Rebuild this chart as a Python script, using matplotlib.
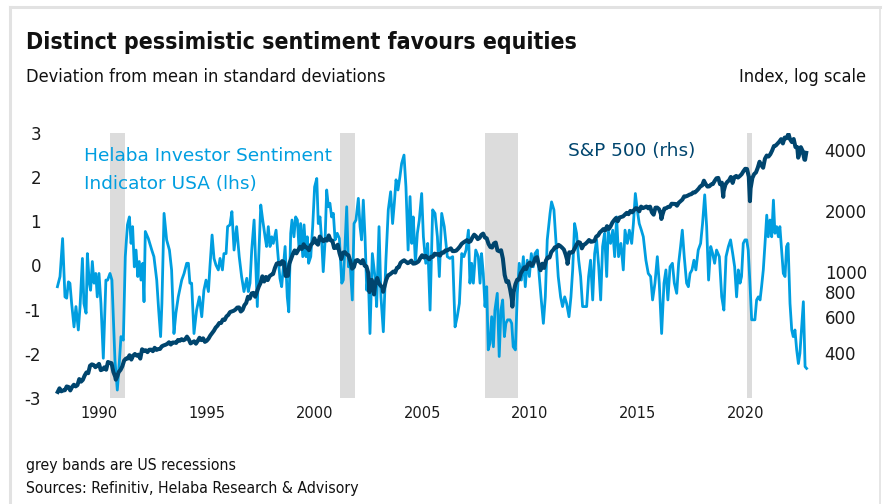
import matplotlib
matplotlib.use("Agg")
import matplotlib.pyplot as plt
import numpy as np
from matplotlib.font_manager import FontProperties
from matplotlib.ticker import FixedLocator, NullLocator, FixedFormatter
from matplotlib.lines import Line2D

# ---------------- data ----------------
# Helaba Investor Sentiment Indicator USA (deviation from mean, std devs)
sent_years = [
    1988.07, 1988.19, 1988.31, 1988.42, 1988.50, 1988.58, 1988.65, 1988.73, 1988.84, 1988.93,
    1989.04, 1989.12, 1989.23, 1989.30, 1989.40, 1989.46, 1989.55, 1989.61, 1989.69, 1989.77,
    1989.85, 1989.92, 1990.00, 1990.09, 1990.20, 1990.32, 1990.40, 1990.51, 1990.60, 1990.74,
    1990.85, 1990.94, 1991.02, 1991.13, 1991.22, 1991.32, 1991.41, 1991.49, 1991.56, 1991.64,
    1991.72, 1991.80, 1991.87, 1991.95, 1992.03, 1992.09, 1992.15, 1992.29, 1992.45, 1992.55,
    1992.68, 1992.77, 1992.86, 1992.92, 1993.02, 1993.14, 1993.27, 1993.37, 1993.48, 1993.57,
    1993.68, 1993.84, 1993.95, 1994.07, 1994.15, 1994.22, 1994.30, 1994.41, 1994.53, 1994.66,
    1994.77, 1994.87, 1994.97, 1995.08, 1995.15, 1995.25, 1995.34, 1995.43, 1995.54, 1995.62,
    1995.73, 1995.80, 1995.90, 1995.97, 1996.08, 1996.17, 1996.27, 1996.39, 1996.51, 1996.62,
    1996.73, 1996.86, 1996.93, 1997.01, 1997.09, 1997.20, 1997.29, 1997.35, 1997.41, 1997.51,
    1997.60, 1997.71, 1997.78, 1997.86, 1997.94, 1998.02, 1998.09, 1998.22, 1998.29, 1998.40,
    1998.48, 1998.64, 1998.74, 1998.81, 1998.90, 1998.96, 1999.05, 1999.13, 1999.21, 1999.29,
    1999.36, 1999.46, 1999.52, 1999.61, 1999.67, 1999.73, 1999.83, 1999.92, 2000.01, 2000.11,
    2000.18, 2000.26, 2000.34, 2000.41, 2000.49, 2000.57, 2000.65, 2000.72, 2000.80, 2000.88,
    2000.96, 2001.06, 2001.16, 2001.27, 2001.34, 2001.42, 2001.50, 2001.58, 2001.65, 2001.76,
    2001.84, 2001.93, 2002.04, 2002.12, 2002.19, 2002.27, 2002.35, 2002.43, 2002.50, 2002.58,
    2002.69, 2002.81, 2002.89, 2003.00, 2003.09, 2003.20, 2003.32, 2003.43, 2003.54, 2003.63,
    2003.71, 2003.79, 2003.88, 2003.97, 2004.05, 2004.16, 2004.25, 2004.35, 2004.44, 2004.52,
    2004.59, 2004.69, 2004.78, 2004.87, 2004.98, 2005.06, 2005.17, 2005.26, 2005.37, 2005.49,
    2005.60, 2005.71, 2005.80, 2005.91, 2006.03, 2006.17, 2006.29, 2006.42, 2006.53, 2006.63,
    2006.73, 2006.84, 2006.94, 2007.04, 2007.15, 2007.22, 2007.30, 2007.38, 2007.49, 2007.61,
    2007.69, 2007.76, 2007.84, 2007.92, 2008.00, 2008.07, 2008.15, 2008.23, 2008.31, 2008.38,
    2008.49, 2008.58, 2008.66, 2008.74, 2008.82, 2008.89, 2008.97, 2009.08, 2009.16, 2009.23,
    2009.33, 2009.42, 2009.51, 2009.61, 2009.70, 2009.79, 2009.88, 2009.98, 2010.07, 2010.16,
    2010.24, 2010.35, 2010.44, 2010.52, 2010.63, 2010.72, 2010.81, 2010.94, 2011.01, 2011.12,
    2011.22, 2011.32, 2011.43, 2011.52, 2011.62, 2011.71, 2011.82, 2011.91, 2011.99, 2012.08,
    2012.17, 2012.27, 2012.36, 2012.45, 2012.55, 2012.64, 2012.73, 2012.82, 2012.92, 2013.01,
    2013.10, 2013.20, 2013.29, 2013.38, 2013.47, 2013.57, 2013.64, 2013.75, 2013.85, 2013.94,
    2014.03, 2014.12, 2014.23, 2014.34, 2014.42, 2014.53, 2014.62, 2014.73, 2014.81, 2014.90,
    2014.99, 2015.08, 2015.18, 2015.27, 2015.39, 2015.50, 2015.61, 2015.70, 2015.81, 2015.92,
    2016.01, 2016.12, 2016.23, 2016.32, 2016.41, 2016.51, 2016.62, 2016.71, 2016.82, 2016.91,
    2017.00, 2017.08, 2017.17, 2017.28, 2017.36, 2017.44, 2017.53, 2017.62, 2017.71, 2017.82,
    2017.93, 2018.02, 2018.12, 2018.21, 2018.30, 2018.40, 2018.49, 2018.58, 2018.67, 2018.80,
    2018.91, 2019.01, 2019.11, 2019.22, 2019.32, 2019.42, 2019.51, 2019.60, 2019.68, 2019.76,
    2019.83, 2019.91, 2019.99, 2020.07, 2020.14, 2020.22, 2020.30, 2020.38, 2020.45, 2020.53,
    2020.61, 2020.69, 2020.76, 2020.84, 2020.92, 2021.00, 2021.07, 2021.15, 2021.23, 2021.31,
    2021.38, 2021.46, 2021.54, 2021.61, 2021.69, 2021.77, 2021.85, 2021.92, 2021.99, 2022.08,
    2022.16, 2022.23, 2022.31, 2022.39, 2022.47, 2022.54, 2022.62, 2022.70, 2022.78, 2022.85,
]
sent_values = [
    -0.48, -0.25, 0.61, -0.71, -0.74, -0.37, -0.40, -0.86, -1.39, -0.93,
    -1.46, -0.93, 0.16, -0.86, -1.08, 0.27, -0.40, -0.56, 0.09, -0.40,
    -0.18, -0.71, -0.18, -0.86, -2.10, -0.33, -0.33, -0.18, -0.33, -2.14,
    -2.82, -2.22, -1.61, -1.69, 0.20, 0.92, 1.10, 0.50, 0.88, -0.03,
    0.35, -0.25, 0.09, -0.33, 0.05, -0.82, 0.77, 0.61, 0.35, 0.20,
    -0.33, -1.01, -1.61, -0.86, 1.18, 0.58, 0.35, -0.10, -1.54, -1.08,
    -0.71, -0.33, -0.18, 0.05, 0.05, -0.40, -0.40, -1.54, -1.01, -0.71,
    -1.16, -0.56, -0.33, -0.59, -0.03, 0.69, 0.16, 0.01, -0.10, 0.16,
    -0.10, 0.27, 0.27, 0.88, 0.92, 1.22, 0.35, 0.88, 0.20, -0.25,
    -0.59, -0.29, -0.59, -0.40, 0.35, 1.03, -0.18, -0.93, 0.12, 1.37,
    1.03, 0.65, 0.43, 0.88, 0.43, 0.65, 0.50, 0.80, 0.35, -0.29,
    -0.48, 0.43, -0.71, -1.05, 0.73, 1.03, 0.65, 1.10, 1.03, 0.35,
    0.95, 0.20, 0.92, 0.20, 0.65, 0.05, 0.20, 0.88, 1.78, 1.97,
    0.95, 1.10, 0.54, -0.14, 0.50, 1.71, 1.33, 1.41, 1.10, 1.18,
    0.58, 0.73, 0.61, -0.40, -0.33, 0.43, 1.33, -0.03, 0.12, -0.78,
    0.95, 1.03, 1.52, 0.88, 0.58, 1.48, 0.65, -0.56, -0.18, -1.54,
    0.27, -0.25, -0.93, 0.88, -0.71, -1.50, 0.12, 1.26, 1.67, 0.95,
    1.41, 1.94, 1.71, 2.01, 2.31, 2.50, 1.78, 0.35, 1.56, 0.50,
    1.10, 0.05, 0.73, 1.03, 1.63, 0.65, 0.05, 0.50, -1.01, 1.26,
    1.18, 0.65, -0.25, 1.18, 0.88, 0.20, 0.16, 0.20, -1.39, -1.16,
    -0.86, 0.27, 0.20, 0.35, 0.80, -0.40, 0.05, -0.40, 0.35, 0.20,
    -0.40, 0.27, -0.18, -0.93, -0.48, -1.91, -1.76, -1.16, -1.84, -1.01,
    -0.63, -2.06, -1.01, -0.78, -1.61, -1.31, -1.23, -1.23, -1.31, -1.84,
    -1.91, -0.63, 0.05, -0.33, 0.20, -0.48, 0.12, -0.25, 0.27, -0.03,
    0.27, 0.35, -0.25, -0.71, -1.31, -0.71, 0.58, 1.18, 1.44, 1.26,
    0.50, -0.25, -0.71, -0.93, -0.71, -0.86, -1.16, -0.71, -0.10, 0.95,
    0.73, 0.12, -0.25, -0.93, -0.93, -0.93, -0.25, 0.12, -0.78, 0.27,
    0.58, -0.03, -0.78, 0.43, 0.73, -0.25, 0.80, 0.50, 0.80, 0.20,
    1.10, 0.20, 0.50, -0.10, 0.80, 0.50, 0.80, 0.50, 0.95, 1.63,
    1.26, 0.95, 0.80, 0.65, 0.12, -0.18, -0.25, -0.78, -0.40, 0.20,
    -0.40, -1.54, -0.40, -0.10, -0.78, -0.03, 0.05, -0.40, -0.63, 0.05,
    0.43, 0.80, 0.20, -0.40, -0.48, -0.18, -0.10, 0.12, -0.10, 0.35,
    0.50, 0.95, 1.60, 0.88, -0.33, 0.43, 0.27, 0.05, 0.35, 0.20,
    -0.71, -1.01, 0.20, 0.43, 0.58, 0.27, -0.03, -0.71, -0.10, -0.40,
    -0.25, 0.50, 0.58, 0.58, 0.35, -0.40, -1.23, -1.23, -1.23, -0.78,
    -0.71, -0.78, -0.48, -0.10, 0.50, 1.14, 0.65, 1.03, 0.65, 1.48,
    0.73, 0.88, 0.65, 0.88, 0.35, -0.18, -0.25, 0.43, 0.50, -0.86,
    -1.46, -1.61, -1.46, -1.91, -2.22, -1.99, -1.39, -0.82, -2.29, -2.33,
]

# S&P 500 month-end closes, Jan 1988 - Oct 2022
sp_first_year = 1988
sp_month_close = [
    257.07, 267.82, 258.89, 261.33, 262.16, 273.50, 272.02, 261.52, 271.91, 278.97, 273.70, 277.72,
    297.47, 288.86, 294.87, 309.64, 320.52, 317.98, 346.08, 351.45, 349.15, 340.36, 345.99, 353.40,
    329.08, 331.89, 339.94, 330.80, 361.23, 358.02, 356.15, 322.56, 306.05, 304.00, 322.22, 330.22,
    343.93, 367.07, 375.22, 375.34, 389.83, 371.16, 387.81, 395.43, 387.86, 392.45, 375.22, 417.09,
    408.79, 412.70, 403.69, 414.95, 415.35, 408.14, 424.21, 414.03, 417.80, 418.68, 431.35, 435.71,
    438.78, 443.38, 451.67, 440.19, 450.19, 450.53, 448.13, 463.56, 458.93, 467.83, 461.79, 466.45,
    481.61, 467.14, 445.77, 450.91, 456.50, 444.27, 458.26, 475.49, 462.69, 472.35, 453.69, 459.27,
    470.42, 487.39, 500.71, 514.71, 533.40, 544.75, 562.06, 561.88, 584.41, 581.50, 605.37, 615.93,
    636.02, 640.43, 645.50, 654.17, 669.12, 670.63, 639.95, 651.99, 687.33, 705.27, 757.02, 740.74,
    786.16, 790.82, 757.12, 801.34, 848.28, 885.14, 954.31, 899.47, 947.28, 914.62, 955.40, 970.43,
    980.28, 1049.34, 1101.75, 1111.75, 1090.82, 1133.84, 1120.67, 957.28, 1017.01, 1098.67, 1163.63, 1229.23,
    1279.64, 1238.33, 1286.37, 1335.18, 1301.84, 1372.71, 1328.72, 1320.41, 1282.71, 1362.93, 1388.91, 1469.25,
    1394.46, 1366.42, 1498.58, 1452.43, 1420.60, 1454.60, 1430.83, 1517.68, 1436.51, 1429.40, 1314.95, 1320.28,
    1366.01, 1239.94, 1160.33, 1249.46, 1255.82, 1224.38, 1211.23, 1133.58, 1040.94, 1059.78, 1139.45, 1148.08,
    1130.20, 1106.73, 1147.39, 1076.92, 1067.14, 989.82, 911.62, 916.07, 815.28, 885.76, 936.31, 879.82,
    855.70, 841.15, 848.18, 916.92, 963.59, 974.50, 990.31, 1008.01, 995.97, 1050.71, 1058.20, 1111.92,
    1131.13, 1144.94, 1126.21, 1107.30, 1120.68, 1140.84, 1101.72, 1104.24, 1114.58, 1130.20, 1173.82, 1211.92,
    1181.27, 1203.60, 1180.59, 1156.85, 1191.50, 1191.33, 1234.18, 1220.33, 1228.81, 1207.01, 1249.48, 1248.29,
    1280.08, 1280.66, 1294.83, 1310.61, 1270.09, 1270.20, 1276.66, 1303.82, 1335.85, 1377.94, 1400.63, 1418.30,
    1438.24, 1406.82, 1420.86, 1482.37, 1530.62, 1503.35, 1455.27, 1473.99, 1526.75, 1549.38, 1481.14, 1468.36,
    1378.55, 1330.63, 1322.70, 1385.59, 1400.38, 1280.00, 1267.38, 1282.83, 1166.36, 968.75, 896.24, 903.25,
    825.88, 735.09, 797.87, 872.81, 919.14, 919.32, 987.48, 1020.62, 1057.08, 1036.19, 1095.63, 1115.10,
    1073.87, 1104.49, 1169.43, 1186.69, 1089.41, 1030.71, 1101.60, 1049.33, 1141.20, 1183.26, 1180.55, 1257.64,
    1286.12, 1327.22, 1325.83, 1363.61, 1345.20, 1320.64, 1292.28, 1218.89, 1131.42, 1253.30, 1246.96, 1257.60,
    1312.41, 1365.68, 1408.47, 1397.91, 1310.33, 1362.16, 1379.32, 1406.58, 1440.67, 1412.16, 1416.18, 1426.19,
    1498.11, 1514.68, 1569.19, 1597.57, 1630.74, 1606.28, 1685.73, 1632.97, 1681.55, 1756.54, 1805.81, 1848.36,
    1782.59, 1859.45, 1872.34, 1883.95, 1923.57, 1960.23, 1930.67, 2003.37, 1972.29, 2018.05, 2067.56, 2058.90,
    1994.99, 2104.50, 2067.89, 2085.51, 2107.39, 2063.11, 2103.84, 1972.18, 1920.03, 2079.36, 2080.41, 2043.94,
    1940.24, 1932.23, 2059.74, 2065.30, 2096.95, 2098.86, 2173.60, 2170.95, 2168.27, 2126.15, 2198.81, 2238.83,
    2278.87, 2363.64, 2362.72, 2384.20, 2411.80, 2423.41, 2470.30, 2471.65, 2519.36, 2575.26, 2647.58, 2673.61,
    2823.81, 2713.83, 2640.87, 2648.05, 2705.27, 2718.37, 2816.29, 2901.52, 2913.98, 2711.74, 2760.17, 2506.85,
    2704.10, 2784.49, 2834.40, 2945.83, 2752.06, 2941.76, 2980.38, 2926.46, 2976.74, 3037.56, 3140.98, 3230.78,
    3225.52, 2954.22, 2584.59, 2912.43, 3044.31, 3100.29, 3271.12, 3500.31, 3363.00, 3269.96, 3621.63, 3756.07,
    3714.24, 3811.15, 3972.89, 4181.17, 4204.11, 4297.50, 4395.26, 4522.68, 4307.54, 4605.38, 4567.00, 4766.18,
    4515.55, 4373.94, 4530.41, 4131.93, 4132.15, 3785.38, 4130.29, 3955.00, 3585.62, 3871.98,
]
# intra-month weekly extremes visible in the chart
sp_extra_years = [1990.78, 1998.77, 2002.56, 2002.77, 2003.19, 2009.19, 2010.50, 2011.75,
                  2016.11, 2018.98, 2020.22, 2022.01, 2022.46, 2022.78]
sp_extra_values = [295.46, 959.44, 797.70, 776.76, 800.73, 676.53, 1022.58, 1099.23,
                   1829.08, 2351.10, 2237.40, 4796.56, 3666.77, 3577.03]

recession_start = [1990.50, 2001.17, 2007.92, 2020.08]
recession_end = [1991.20, 2001.90, 2009.46, 2020.30]

x_tick_years = [1990, 1995, 2000, 2005, 2010, 2015, 2020]
left_ticks = [-3, -2, -1, 0, 1, 2, 3]
right_ticks = [400, 600, 800, 1000, 2000, 4000]

# ---------------- styling ----------------
LIGHT = "#009ee0"
NAVY = "#00456e"
BAND = "#dcdcdc"
W, H = 886, 504

plt.rcParams["font.family"] = ["DejaVu Sans"]
cond = dict(family="DejaVu Sans", stretch="condensed")

fig = plt.figure(figsize=(W / 100, H / 100), dpi=100)

def fx(px):
    return px / W

def fy(py):
    return 1 - py / H

ax_l, ax_r, ax_t, ax_b = 52, 815, 133, 398
ax = fig.add_axes([fx(ax_l), fy(ax_b), fx(ax_r - ax_l), (ax_b - ax_t) / H])
ax2 = ax.twinx()

# x scale: 1990 at pixel 99, 21.54 px per year
x0 = 1990 - (99 - ax_l) / 21.54
x1 = 1990 + (ax_r - 99) / 21.54
ax.set_xlim(x0, x1)
ax.set_ylim(-3, 3)

for s, e in zip(recession_start, recession_end):
    ax.axvspan(s, e, color=BAND, lw=0, zorder=0)

ax.plot(sent_years, sent_values, color=LIGHT, lw=2.0, solid_joinstyle="round", zorder=2)

# S&P 500 series
n = len(sp_month_close)
sp_years = [sp_first_year + (i + 1) / 12 for i in range(n)]
all_years = np.array(sp_years + sp_extra_years)
all_vals = np.array(sp_month_close + sp_extra_values)
order = np.argsort(all_years)
ax2.plot(all_years[order], all_vals[order], color=NAVY, lw=2.9, solid_joinstyle="round", zorder=3)
ax2.set_yscale("log")
ax2.set_ylim(240, 4850)
ax2.set_xlim(x0, x1)

for a in (ax, ax2):
    for sp in a.spines.values():
        sp.set_visible(False)
    a.patch.set_visible(False)

ax.xaxis.set_major_locator(FixedLocator(x_tick_years))
ax.set_xticklabels([str(y) for y in x_tick_years], fontproperties=FontProperties(size=11.7, **cond))
ax.tick_params(axis="x", length=0, pad=6, colors="#1a1a1a")
ax.set_yticks(left_ticks)
ax.set_yticklabels([str(v) for v in left_ticks])
ax.tick_params(axis="y", length=0, pad=8, labelsize=12, colors="#1a1a1a")

ax2.yaxis.set_major_locator(FixedLocator(right_ticks))
ax2.yaxis.set_major_formatter(FixedFormatter([str(v) for v in right_ticks]))
ax2.yaxis.set_minor_locator(NullLocator())
ax2.tick_params(axis="y", which="both", length=0, pad=7, labelsize=12, colors="#1a1a1a")

# series labels
fig.text(fx(84), fy(161), "Helaba Investor Sentiment", color=LIGHT, fontsize=13.3, va="baseline")
fig.text(fx(84), fy(189), "Indicator USA (lhs)", color=LIGHT, fontsize=13.3, va="baseline")
fig.text(fx(568), fy(156), "S&P 500 (rhs)", color=NAVY, fontsize=13.3, va="baseline")

# titles and notes
fig.text(fx(26), fy(49), "Distinct pessimistic sentiment favours equities",
         fontproperties=FontProperties(size=16.6, weight="bold", **cond), color="#111111", va="baseline")
fig.text(fx(26), fy(82), "Deviation from mean in standard deviations",
         fontproperties=FontProperties(size=13.1, **cond), color="#111111", va="baseline")
fig.text(fx(866), fy(82), "Index, log scale", ha="right",
         fontproperties=FontProperties(size=13.1, **cond), color="#111111", va="baseline")
fig.text(fx(26), fy(470), "grey bands are US recessions",
         fontproperties=FontProperties(size=11.3, **cond), color="#111111", va="baseline")
fig.text(fx(26), fy(493), "Sources: Refinitiv, Helaba Research & Advisory",
         fontproperties=FontProperties(size=11.3, **cond), color="#111111", va="baseline")

# light frame
frame_col = "#e2e2e2"
fig.add_artist(Line2D([fx(10), fx(10)], [0, fy(7)], color=frame_col, lw=2.2, transform=fig.transFigure))
fig.add_artist(Line2D([fx(10), fx(880)], [fy(7), fy(7)], color=frame_col, lw=2.2, transform=fig.transFigure))
fig.add_artist(Line2D([fx(880), fx(880)], [0, fy(7)], color=frame_col, lw=1.2, transform=fig.transFigure))

fig.savefig("out.png", dpi=100)
